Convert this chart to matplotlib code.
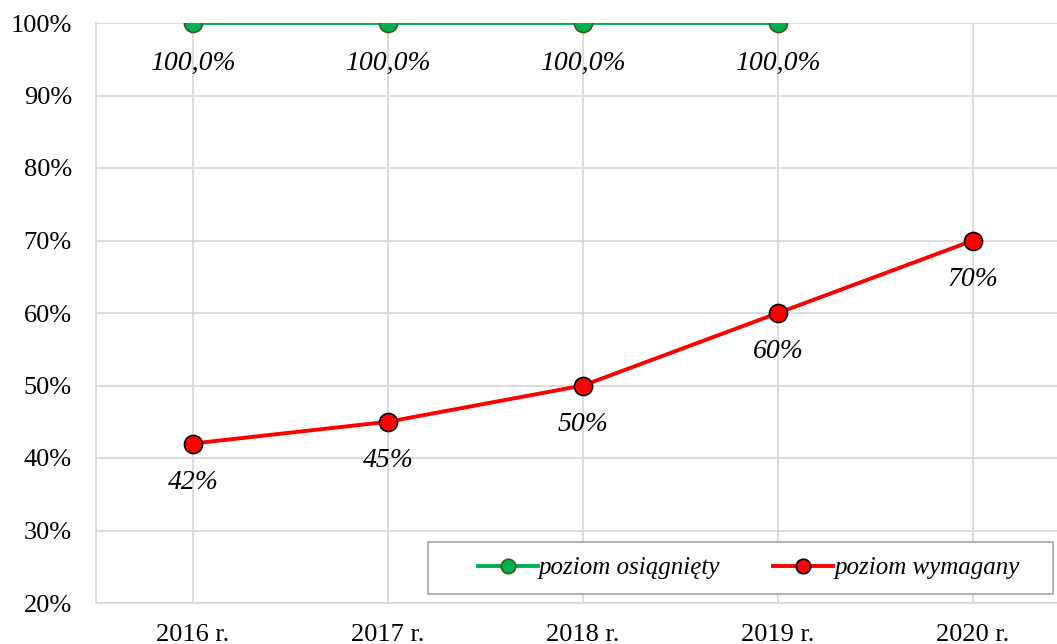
import matplotlib
matplotlib.use("Agg")
import matplotlib.pyplot as plt
from matplotlib.ticker import FuncFormatter
from matplotlib.patches import Rectangle

years = ["2016 r.", "2017 r.", "2018 r.", "2019 r.", "2020 r."]
achieved = [100.0, 100.0, 100.0, 100.0]
required = [42, 45, 50, 60, 70]
achieved_labels = ["100,0%", "100,0%", "100,0%", "100,0%"]
required_labels = ["42%", "45%", "50%", "60%", "70%"]

plt.rcParams['font.family'] = ['Liberation Serif', 'DejaVu Serif']

fig = plt.figure(figsize=(10.57, 6.44), dpi=100)
W, H = 1057, 644
ax = fig.add_axes([95.5 / W, (H - 603) / H, 975 / W, 580 / H])

x_req = list(range(len(required)))
x_ach = list(range(len(achieved)))

ax.plot(x_ach, achieved, color="#00b050", lw=2.8, marker="o", ms=13,
        mfc="#00b050", mec="#3a5a1e", mew=1.2, label="poziom osiągnięty", zorder=3)
ax.plot(x_req, required, color="#ff0000", lw=2.8, marker="o", ms=13,
        mfc="#ff0000", mec="#000000", mew=1.2, label="poziom wymagany", zorder=3)

for xi, v, t in zip(x_ach, achieved, achieved_labels):
    ax.annotate(t, (xi, v), xytext=(0, -29), textcoords="offset points",
                ha="center", va="center", fontsize=20, style="italic")
for xi, v, t in zip(x_req, required, required_labels):
    ax.annotate(t, (xi, v), xytext=(0, -28), textcoords="offset points",
                ha="center", va="center", fontsize=20, style="italic")

ax.set_xlim(-0.5, 4.5)
ax.set_ylim(20, 100)
ax.set_yticks(range(20, 101, 10))
ax.yaxis.set_major_formatter(FuncFormatter(lambda v, p: f"{int(v)}%"))
ax.set_xticks(x_req)
ax.set_xticklabels(years)
ax.tick_params(axis="both", length=0, labelsize=19)
ax.tick_params(axis="y", pad=17)
ax.tick_params(axis="x", pad=15)
ax.grid(True, color="#d9d9d9", lw=1.3)
ax.set_axisbelow(True)
for s in ["top", "right"]:
    ax.spines[s].set_visible(False)
for s in ["left", "bottom"]:
    ax.spines[s].set_color("#d9d9d9")
    ax.spines[s].set_linewidth(1.3)

# legend box
bx0, by0, bw, bh = 428, 542, 625, 52
fig.patches.append(Rectangle((bx0 / W, (H - by0 - bh) / H), bw / W, bh / H,
                             transform=fig.transFigure, facecolor="white",
                             edgecolor="#a6a6a6", lw=1.2, zorder=5))
leg = fig.legend(loc="center", bbox_to_anchor=((bx0 + bw / 2 + 8) / W, (H - by0 - bh / 2) / H),
                 bbox_transform=fig.transFigure, ncol=2,
                 prop={"style": "italic", "size": 18}, frameon=False,
                 handlelength=2.4, handletextpad=0.05, columnspacing=2.1,
                 markerscale=0.8)
leg.set_zorder(6)

fig.savefig("out.png", dpi=100)
